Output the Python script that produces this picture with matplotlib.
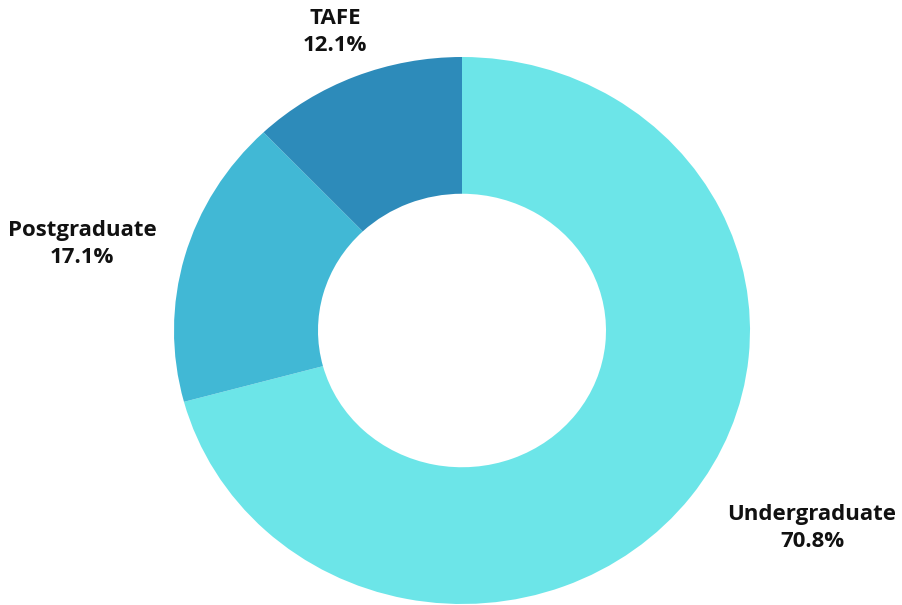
import matplotlib.pyplot as plt

labels = ['Undergraduate', 'Postgraduate', 'TAFE']
shares = [70.8, 17.1, 12.1]
colors = ['#6CE5E8', '#41B8D5', '#2D8BBA']

# where each label block sits, in figure pixels (x, y from top)
label_pos = [(812, 528), (82, 244), (335, 32)]

W, H = 903, 605
fig = plt.figure(figsize=(W / 100, H / 100), dpi=100)
# ring spans 576 x 547 px, so no equal aspect
ax = fig.add_axes([174 / W, 1 / H, 576 / W, 547 / H])
ax.pie(shares, colors=colors, startangle=90, counterclock=False,
       wedgeprops=dict(width=0.5, edgecolor='none'))
ax.set_aspect('auto')
ax.set_xlim(-1, 1)
ax.set_ylim(-1, 1)
ax.axis('off')

for name, val, (px, py) in zip(labels, shares, label_pos):
    fig.text(px / W, 1 - py / H, f'{name}\n{val:.1f}%', ha='center', va='center',
             fontsize=16, fontweight='bold', family='Open Sans', color='#111111',
             linespacing=1.38)

fig.savefig('out.png', dpi=100)
